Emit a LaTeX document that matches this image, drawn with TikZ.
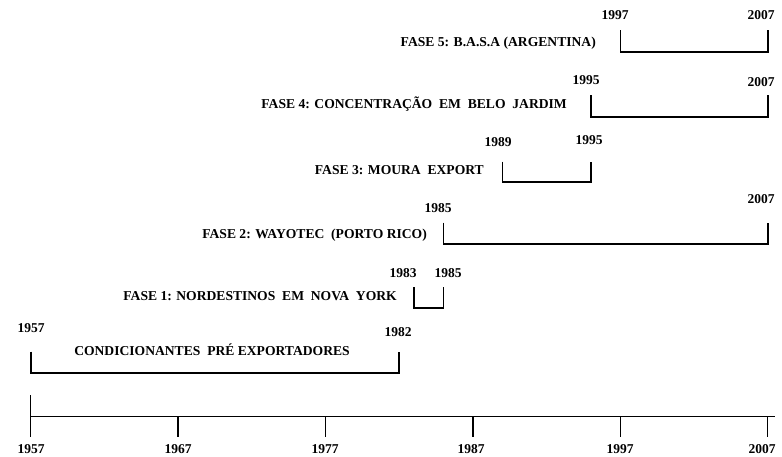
\documentclass[tikz,border=0pt]{standalone}
\usepackage{fontspec}
\setmainfont{Liberation Serif}
\usetikzlibrary{positioning}

\begin{document}
\begin{tikzpicture}[
    x=1pt, y=-1pt,
    phase/.style={font=\fontsize{13.6}{15}\selectfont\bfseries, inner sep=0pt, anchor=east},
    year/.style={font=\fontsize{13.5}{15}\selectfont\bfseries, inner sep=0pt},
    bracket/.style={line width=1.6pt, line join=miter},
    axis/.style={line width=1.3pt},
]
\useasboundingbox (0,0) rectangle (782,456);

% eixo do tempo
\draw[axis] (30.7,416.7) -- (775,416.7);
\draw[axis] (30.7,395) -- (30.7,437);
\draw[axis] (178.1,416.7) -- (178.1,437);
\draw[axis] (325.5,416.7) -- (325.5,437);
\draw[axis] (472.9,416.7) -- (472.9,437);
\draw[axis] (620.3,416.7) -- (620.3,437);
\draw[axis] (767.7,416.7) -- (767.7,437);
\node[year] (a1957) at (31,449) {1957};
\node[year] (a1967) at (178,449) {1967};
\node[year] (a1977) at (325,449) {1977};
\node[year] (a1987) at (471,449) {1987};
\node[year] (a1997) at (620,449) {1997};
\node[year] (a2007) at (762,449) {2007};

% condicionantes
\draw[bracket] (30.7,351.7) -- (30.7,373) -- (399.2,373) -- (399.2,351.7);
\node[year] (c1957) at (31,328) {1957};
\node[year] (c1982) at (398,332) {1982};
\node[phase, anchor=center] (cond) at (212,350) {CONDICIONANTES\ \ PRÉ EXPORTADORES};

% fase 1
\draw[bracket] (413.9,287) -- (413.9,308) -- (443.4,308) -- (443.4,287);
\node[year] (f1a) at (403,273) {1983};
\node[year] (f1b) at (448,273) {1985};
\node[phase] (fase1) at (397,296.5) {FASE 1: NORDESTINOS\ \ EM\ \ NOVA\ \ YORK};

% fase 2
\draw[bracket] (443.4,222.7) -- (443.4,244) -- (767.7,244) -- (767.7,222.7);
\node[year] (f2a) at (438,208) {1985};
\node[year] (f2b) at (761,199) {2007};
\node[phase] (fase2) at (427,235) {FASE 2: WAYOTEC\ \ (PORTO RICO)};

% fase 3
\draw[bracket] (502.4,161.7) -- (502.4,181.7) -- (590.8,181.7) -- (590.8,161.7);
\node[year] (f3a) at (498,142) {1989};
\node[year] (f3b) at (589,140) {1995};
\node[phase] (fase3) at (484,170) {FASE 3: MOURA\ \ EXPORT};

% fase 4
\draw[bracket] (590.8,95) -- (590.8,116.7) -- (767.7,116.7) -- (767.7,95);
\node[year] (f4a) at (586,80) {1995};
\node[year] (f4b) at (761,82) {2007};
\node[phase] (fase4) at (567,104.5) {FASE 4: CONCENTRAÇÃO\ \ EM\ \ BELO\ \ JARDIM};

% fase 5
\draw[bracket] (620.3,30) -- (620.3,51.7) -- (767.7,51.7) -- (767.7,30);
\node[year] (f5a) at (615,15) {1997};
\node[year] (f5b) at (761,15) {2007};
\node[phase] (fase5) at (596,43) {FASE 5: B.A.S.A (ARGENTINA)};

\end{tikzpicture}
\end{document}
